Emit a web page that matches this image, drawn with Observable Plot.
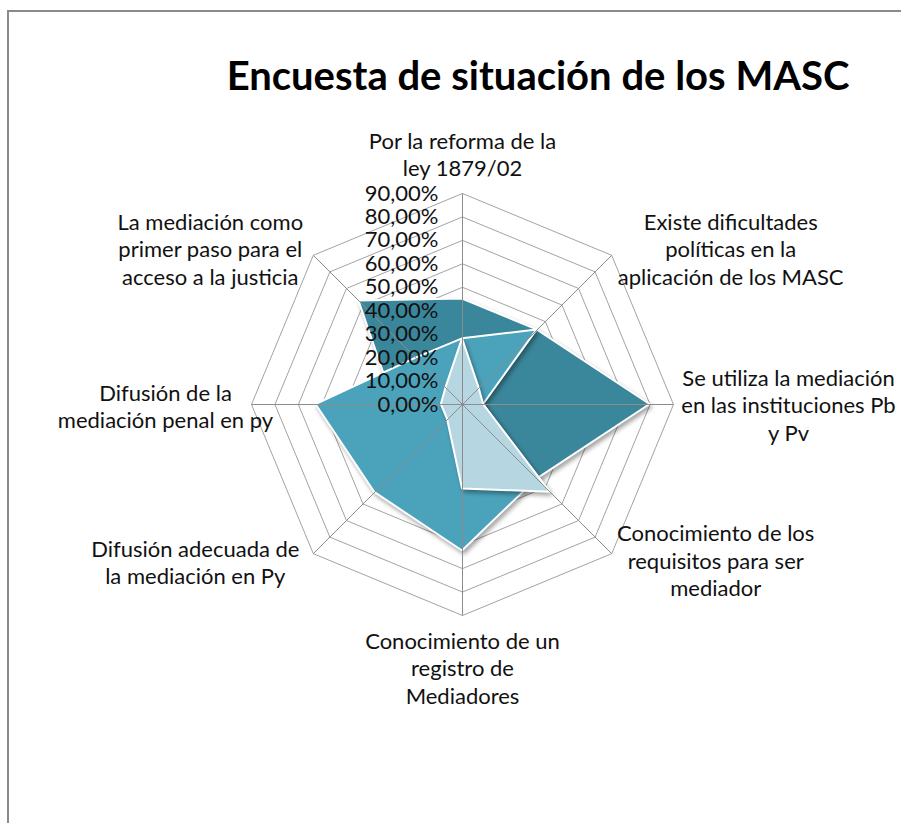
<!DOCTYPE html>
<html>
<head>
<meta charset="utf-8">
<script src="https://cdn.jsdelivr.net/npm/d3@7"></script>
<script src="https://cdn.jsdelivr.net/npm/@observablehq/plot@0.6"></script>
<style>
  html, body { margin: 0; padding: 0; background: #fff; }
  #wrap { position: relative; width: 901px; height: 823px; overflow: hidden; font-family: Lato, "Open Sans", sans-serif; }
  #frame { position: absolute; left: 7px; top: 10px; width: 960px; height: 900px; border-left: 2px solid #8a8a8a; border-top: 2px solid #8a8a8a; }
  #title { position: absolute; left: 88px; top: 50px; width: 900px; text-align: center; font-size: 40px; font-weight: bold; line-height: 50px; color: #000; white-space: nowrap; }
  #chart { position: absolute; left: 0; top: 0; }
  #chart g[aria-label="area"] path { filter: drop-shadow(2px 3px 2px rgba(0,0,0,0.35)); }
</style>
</head>
<body>
<div id="wrap">
  <div id="frame"></div>
  <div id="title">Encuesta de situación de los MASC</div>
  <div id="chart"></div>
</div>
<script>
// ---- data ----
const categories = [
  "Por la reforma de la\nley 1879/02",
  "Existe dificultades\npolíticas en la\naplicación de los MASC",
  "Se utiliza la mediación\nen las instituciones Pb\ny Pv",
  "Conocimiento de los\nrequisitos para ser\nmediador",
  "Conocimiento de un\nregistro de\nMediadores",
  "Difusión adecuada de\nla mediación en Py",
  "Difusión de la\nmediación penal en py",
  "La mediación como\nprimer paso para el\nacceso a la justicia"
];
const serie1 = [45, 45, 80, 45, 30, 30, 29, 62.5];
const serie2 = [28, 45, 9, 45, 62.5, 53, 62.5, 28];
const serie3 = [28, 10, 9, 53, 36, 9, 9, 10];
const tickValues = [0, 10, 20, 30, 40, 50, 60, 70, 80, 90];
const tickLabels = ["0,00%", "10,00%", "20,00%", "30,00%", "40,00%", "50,00%", "60,00%", "70,00%", "80,00%", "90,00%"];

// ---- layout / style ----
const seriesColors = ["#3a869a", "#4ba3bb", "#b6d6e1"];
const labelOffsets = [[0, -40], [119, -7], [115, 0], [104, 6], [0, 52], [-118, 8], [-86, 1], [-103, -7]];
const maxV = 90;
const lon = i => 180 - 45 * i;          // clockwise from top
const lat = v => 90 - v / 100;          // distance from pole = value

const idx = d3.range(categories.length);
const ringPts = tickValues.filter(v => v > 0)
  .flatMap(v => d3.range(categories.length + 1).map(k => ({v, i: k % categories.length})));

const seriesList = [serie1, serie2, serie3];

const plot = Plot.plot({
  width: 901,
  height: 808,
  marginLeft: 23, marginRight: 0, marginTop: 0, marginBottom: 0,
  projection: {
    type: "azimuthal-equidistant",
    rotate: [0, -90],
    domain: d3.geoCircle().center([0, 90]).radius((maxV / 100) * 404 / 211)()
  },
  style: { fontFamily: "Lato, 'Open Sans', sans-serif", background: "transparent", overflow: "visible" },
  marks: [
    // octagonal rings
    Plot.line(ringPts, {
      x: d => lon(d.i), y: d => lat(d.v), z: "v",
      stroke: "#a3a3a3", strokeWidth: 1
    }),
    // series areas
    ...seriesList.map((s, k) => Plot.area(idx, {
      x1: i => lon(i), y1: i => lat(s[i]), x2: 0, y2: 90,
      curve: "linear-closed",
      fill: seriesColors[k], stroke: "white", strokeWidth: 2, strokeLinejoin: "miter"
    })),
    // spokes
    Plot.link(idx, {
      x1: i => lon(i), y1: lat(maxV), x2: 0, y2: 90,
      stroke: "#8c8c8c", strokeWidth: 1
    }),
    // tick labels
    Plot.text(tickValues, {
      x: 180, y: v => lat(v),
      text: (v, i) => tickLabels[i],
      textAnchor: "end", dx: -24, fontSize: 22, fill: "#111"
    }),
    // axis labels
    ...idx.map(i => Plot.text([categories[i]], {
      x: lon(i), y: lat(maxV),
      text: d => d,
      dx: labelOffsets[i][0], dy: labelOffsets[i][1],
      textAnchor: "middle", lineAnchor: "middle", lineHeight: 1.25,
      fontSize: 22, fill: "#111"
    }))
  ]
});
document.getElementById("chart").appendChild(plot);
</script>
</body>
</html>
